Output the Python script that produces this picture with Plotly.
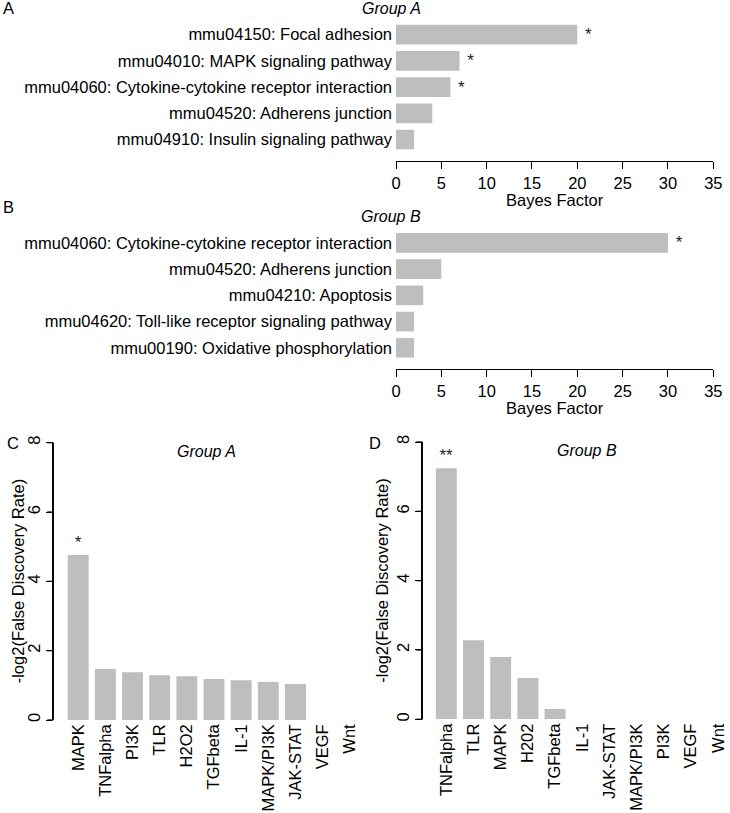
import plotly.graph_objects as go

FONT = "Liberation Sans, Arial, sans-serif"
GREY = "#BEBEBE"

# ---------------- data ----------------
a_terms = [
    "mmu04150: Focal adhesion",
    "mmu04010: MAPK signaling pathway",
    "mmu04060: Cytokine-cytokine receptor interaction",
    "mmu04520: Adherens junction",
    "mmu04910: Insulin signaling pathway",
]
a_bayes = [20, 7, 6, 4, 2]
a_sig = ["*", "*", "*", "", ""]

b_terms = [
    "mmu04060: Cytokine-cytokine receptor interaction",
    "mmu04520: Adherens junction",
    "mmu04210: Apoptosis",
    "mmu04620: Toll-like receptor signaling pathway",
    "mmu00190: Oxidative phosphorylation",
]
b_bayes = [30, 5, 3, 2, 2]
b_sig = ["*", "", "", "", ""]

c_pathways = ["MAPK", "TNFalpha", "PI3K", "TLR", "H2O2", "TGFbeta", "IL-1",
              "MAPK/PI3K", "JAK-STAT", "VEGF", "Wnt"]
c_fdr = [4.76, 1.47, 1.38, 1.29, 1.26, 1.18, 1.15, 1.10, 1.04, 0, 0]
c_sig = ["*", "", "", "", "", "", "", "", "", "", ""]

d_pathways = ["TNFalpha", "TLR", "MAPK", "H202", "TGFbeta", "IL-1", "JAK-STAT",
              "MAPK/PI3K", "PI3K", "VEGF", "Wnt"]
d_fdr = [7.24, 2.28, 1.80, 1.19, 0.30, 0, 0, 0, 0, 0, 0]
d_sig = ["**", "", "", "", "", "", "", "", "", "", ""]

bayes_ticks = [0, 5, 10, 15, 20, 25, 30, 35]
fdr_ticks = [0, 2, 4, 6, 8]

# ---------------- helpers ----------------
W, H = 730, 813
FS = 16.5


def fx(px):
    return px / W


def fy(py):
    return 1 - py / H


fig = go.Figure()

star_font = dict(size=17, color="#222", family=FONT)

# Panel A
fig.add_trace(go.Bar(
    x=a_bayes, y=a_terms, orientation="h", width=0.75,
    marker=dict(color=GREY, line=dict(width=0)),
    text=[(" " + s) if s else "" for s in a_sig], textposition="outside",
    textfont=star_font, cliponaxis=False,
    constraintext="none", xaxis="x", yaxis="y", showlegend=False,
))
# Panel B
fig.add_trace(go.Bar(
    x=b_bayes, y=b_terms, orientation="h", width=0.75,
    marker=dict(color=GREY, line=dict(width=0)),
    text=[(" " + s) if s else "" for s in b_sig], textposition="outside",
    textfont=star_font, cliponaxis=False,
    constraintext="none", xaxis="x2", yaxis="y2", showlegend=False,
))
# Panel C
fig.add_trace(go.Bar(
    x=c_pathways, y=c_fdr, width=0.77,
    marker=dict(color=GREY, line=dict(width=0)),
    text=c_sig, textposition="outside",
    textfont=star_font, cliponaxis=False,
    constraintext="none", xaxis="x3", yaxis="y3", showlegend=False,
))
# Panel D
fig.add_trace(go.Bar(
    x=d_pathways, y=d_fdr, width=0.77,
    marker=dict(color=GREY, line=dict(width=0)),
    text=d_sig, textposition="outside",
    textfont=star_font, cliponaxis=False,
    constraintext="none", xaxis="x4", yaxis="y4", showlegend=False,
))

tickfont = dict(size=FS, color="black", family=FONT)

bayes_x = dict(
    range=[0, 35], tickvals=bayes_ticks, showline=True, linecolor="black",
    linewidth=1.3, ticks="outside", ticklen=7, tickwidth=1.3, tickcolor="black",
    showgrid=False, zeroline=False, tickfont=tickfont, automargin=False,
    domain=[fx(396), fx(713.3)],
)
term_y = dict(
    type="category", showline=False, ticks="", showgrid=False, zeroline=False,
    tickfont=tickfont, ticklabelstandoff=3, automargin=False,
)
fdr_y = dict(
    range=[0, 8], tickvals=fdr_ticks, showline=True, linecolor="black",
    linewidth=1.3, ticks="outside", ticklen=6, tickwidth=1.3, tickcolor="black",
    tickangle=-90, showgrid=False, zeroline=False, tickfont=tickfont,
    automargin=False,
)
path_x = dict(
    type="category", categoryorder="array", showline=False, ticks="",
    tickangle=-90, showgrid=False, zeroline=False, tickfont=tickfont,
    automargin=False,
)

# pixel geometry of the C / D value axes (left edge, zero, top)
c_geom = (53.3, 720.0, 442.7)
d_geom = (422.3, 719.3, 442.0)

fig.update_layout(
    width=W, height=H,
    margin=dict(l=0, r=0, t=0, b=0),
    paper_bgcolor="white", plot_bgcolor="white",
    font=dict(family=FONT, color="black", size=FS),
    showlegend=False,
    xaxis=dict(bayes_x, anchor="y"),
    yaxis=dict(term_y, anchor="x", categoryorder="array", categoryarray=a_terms,
               range=[4.82, -0.56], domain=[fy(161), fy(20)]),
    xaxis2=dict(bayes_x, anchor="y2"),
    yaxis2=dict(term_y, anchor="x2", categoryorder="array", categoryarray=b_terms,
                range=[4.81, -0.57], domain=[fy(369), fy(228)]),
    xaxis3=dict(path_x, categoryarray=c_pathways, range=[-0.917, 10.56],
                domain=[fx(c_geom[0]), fx(365)], anchor="y3"),
    yaxis3=dict(fdr_y, domain=[fy(c_geom[1]), fy(c_geom[2])], anchor="x3"),
    xaxis4=dict(path_x, categoryarray=d_pathways, range=[-0.882, 10.43],
                domain=[fx(d_geom[0]), 1.0], anchor="y4"),
    yaxis4=dict(fdr_y, domain=[fy(d_geom[1]), fy(d_geom[2])], anchor="x4"),
)

# explicit y-axis spine + tick marks for panels C and D (paper coords, unclipped)
axis_line = dict(color="black", width=1.3)
for left, zero, top in (c_geom, d_geom):
    fig.add_shape(type="line", xref="paper", yref="paper",
                  x0=fx(left), x1=fx(left), y0=fy(zero), y1=fy(top),
                  line=axis_line, layer="above")
    scale = (zero - top) / (fdr_ticks[-1] - fdr_ticks[0])
    for t in fdr_ticks:
        py = zero - (t - fdr_ticks[0]) * scale
        fig.add_shape(type="line", xref="paper", yref="paper",
                      x0=fx(left - 6), x1=fx(left), y0=fy(py), y1=fy(py),
                      line=axis_line, layer="above")


def note(text, px, py, italic=False, angle=0, size=FS):
    fig.add_annotation(
        text=text, x=fx(px), y=fy(py), xref="paper", yref="paper",
        xanchor="center", yanchor="middle", showarrow=False, textangle=angle,
        font=dict(size=size, color="black", family=FONT,
                  style="italic" if italic else "normal"),
    )


note("A", 8, 8)
note("B", 8, 207)
note("C", 13, 443)
note("D", 375, 443)
note("Group A", 391, 9, italic=True, size=16)
note("Group B", 391, 217, italic=True, size=16)
note("Group A", 206, 451, italic=True, size=16)
note("Group B", 587, 450, italic=True, size=16)
note("Bayes Factor", 554.6, 200)
note("Bayes Factor", 554.6, 408)
note("-log2(False Discovery Rate)", 18.3, 581, angle=-90)
note("-log2(False Discovery Rate)", 381.7, 581, angle=-90)

fig.write_html(
    "out.html",
    config={"displayModeBar": False},
    post_script="document.body.style.margin='0';document.body.style.overflow='hidden';",
)
